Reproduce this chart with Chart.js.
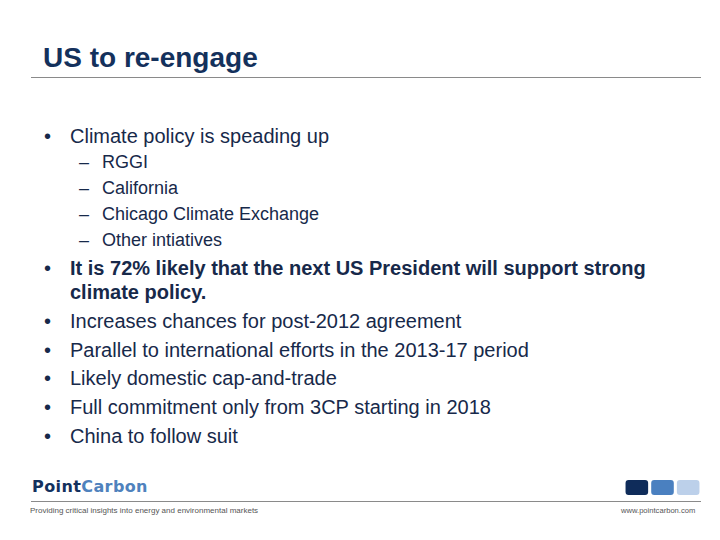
<!DOCTYPE html>
<html>
<head>
<meta charset="utf-8">
<script src="https://cdn.jsdelivr.net/npm/chart.js@4.4.1/dist/chart.umd.min.js"></script>
<style>
  html, body { margin: 0; padding: 0; background: #ffffff; }
  #slide { position: relative; width: 720px; height: 540px; overflow: hidden; font-family: "Liberation Sans", Arial, sans-serif; color: #17294a; }
  .t { position: absolute; white-space: nowrap; }
  .m { font-size: 20px; line-height: 20px; }
  .s { font-size: 18px; line-height: 18px; }
  .rule { position: absolute; height: 1px; background: #8a8a8a; }
  #logoBox { position: absolute; left: 624px; top: 480px; width: 77px; height: 15px; }
</style>
</head>
<body>
<div id="slide">
  <div class="t" style="left:43px; top:43.5px; font-size:28px; line-height:28px; font-weight:bold; color:#14315c;">US to re-engage</div>
  <div class="rule" style="left:31px; top:77px; width:670px;"></div>

  <div class="t m" style="left:44px; top:126px;">•</div>
  <div class="t m" style="left:70px; top:126px;">Climate policy is speading up</div>

  <div class="t s" style="left:79px; top:153px;">–</div>
  <div class="t s" style="left:102px; top:153px;">RGGI</div>
  <div class="t s" style="left:79px; top:179px;">–</div>
  <div class="t s" style="left:102px; top:179px;">California</div>
  <div class="t s" style="left:79px; top:205px;">–</div>
  <div class="t s" style="left:102px; top:205px;">Chicago Climate Exchange</div>
  <div class="t s" style="left:79px; top:231px;">–</div>
  <div class="t s" style="left:102px; top:231px;">Other intiatives</div>

  <div class="t m" style="left:44px; top:258px;">•</div>
  <div class="t m" style="left:70px; top:258px; font-weight:bold;">It is 72% likely that the next US President will support strong</div>
  <div class="t m" style="left:70px; top:282px; font-weight:bold;">climate policy.</div>
  <div class="t m" style="left:44px; top:310.5px;">•</div>
  <div class="t m" style="left:70px; top:310.5px;">Increases chances for post-2012 agreement</div>
  <div class="t m" style="left:44px; top:339.5px;">•</div>
  <div class="t m" style="left:70px; top:339.5px;">Parallel to international efforts in the 2013-17 period</div>
  <div class="t m" style="left:44px; top:368px;">•</div>
  <div class="t m" style="left:70px; top:368px;">Likely domestic cap-and-trade</div>
  <div class="t m" style="left:44px; top:397px;">•</div>
  <div class="t m" style="left:70px; top:397px;">Full commitment only from 3CP starting in 2018</div>
  <div class="t m" style="left:44px; top:426px;">•</div>
  <div class="t m" style="left:70px; top:426px;">China to follow suit</div>

  <div class="t" style="left:32px; top:479px; font-size:16px; line-height:16px; font-weight:bold; letter-spacing:0.4px; font-family:'DejaVu Sans', sans-serif;"><span style="color:#13315e;">Point</span><span style="color:#4f82bd;">Carbon</span></div>
  <div class="rule" style="left:31px; top:501px; width:670px;"></div>
  <div class="t" style="left:30px; top:507px; font-size:8px; line-height:8px; color:#555;">Providing critical insights into energy and environmental markets</div>
  <div class="t" style="left:621px; top:507px; font-size:7.6px; line-height:8px; color:#555;">www.pointcarbon.com</div>

  <div id="logoBox"><canvas id="logo"></canvas></div>
</div>
<script>
const logoBlocks = ["dark", "mid", "light"];
const logoValues = [1, 1, 1];
const logoColors = ["#0f2c5a", "#4a80c0", "#bcd0ea"];

new Chart(document.getElementById("logo"), {
  type: "bar",
  data: {
    labels: logoBlocks,
    datasets: [{
      data: logoValues,
      backgroundColor: logoColors,
      borderRadius: 3,
      borderSkipped: false,
      categoryPercentage: 1,
      barPercentage: 0.88
    }]
  },
  options: {
    responsive: true,
    maintainAspectRatio: false,
    animation: false,
    events: [],
    layout: { padding: 0 },
    plugins: { legend: { display: false }, tooltip: { enabled: false } },
    scales: {
      x: { display: false },
      y: { display: false, min: 0, max: 1 }
    }
  }
});
</script>
</body>
</html>
